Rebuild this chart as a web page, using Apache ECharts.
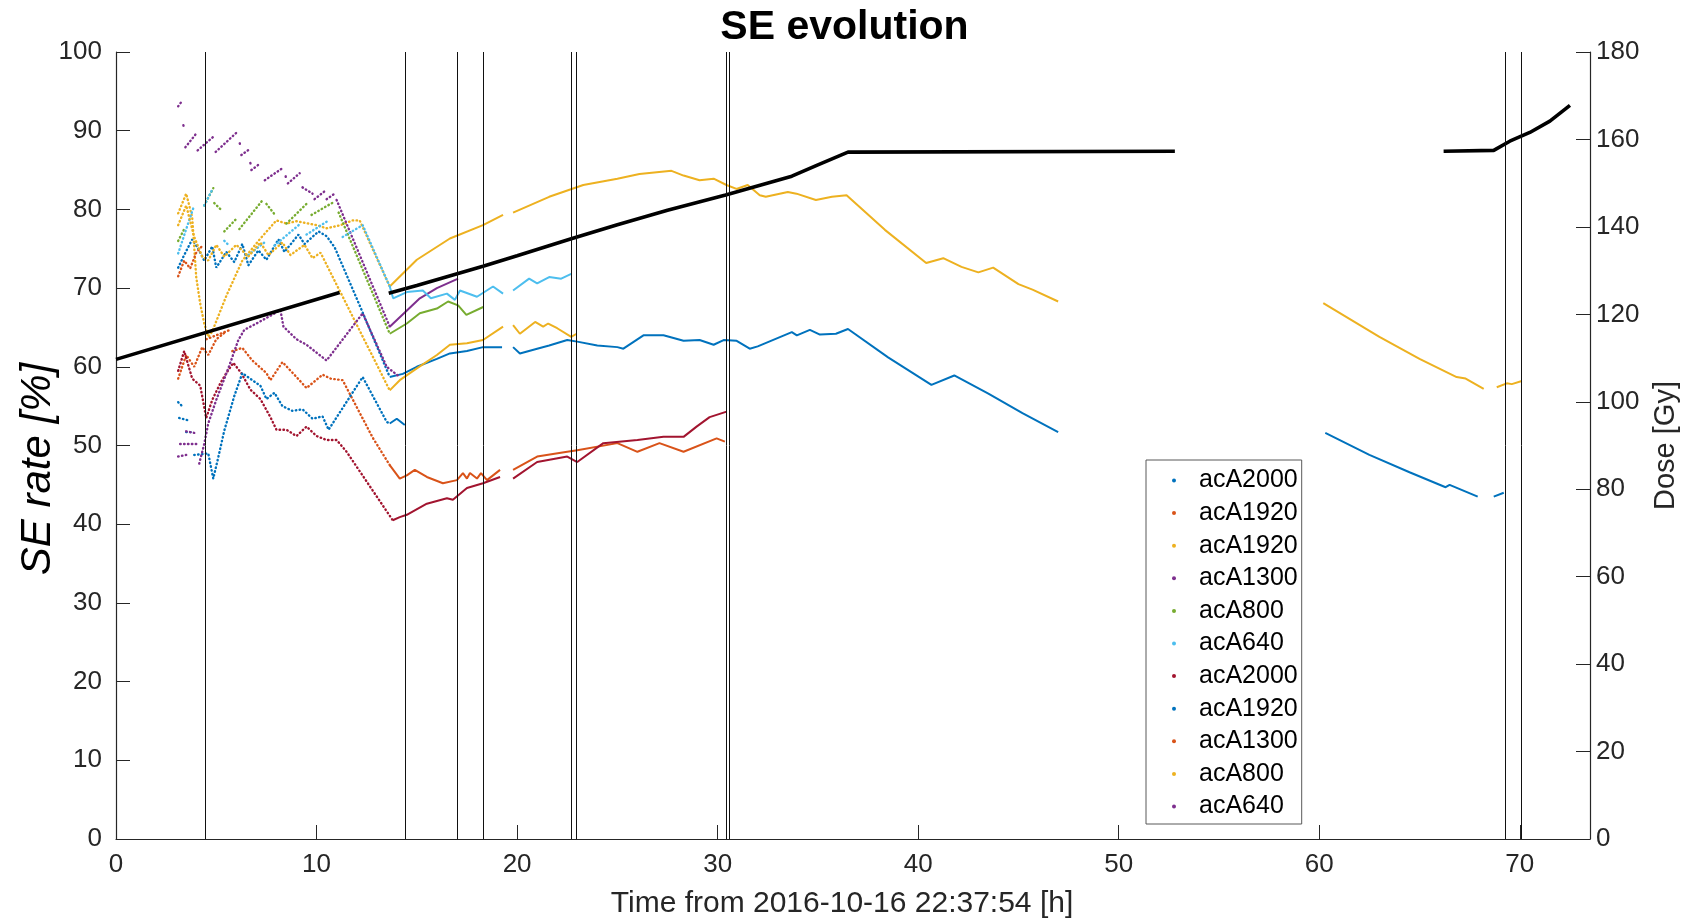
<!DOCTYPE html>
<html>
<head>
<meta charset="utf-8">
<script src="https://cdn.jsdelivr.net/npm/echarts@6/dist/echarts.min.js"></script>
<style>
  html, body { margin: 0; padding: 0; background: #ffffff; overflow: hidden; }
  #chart { width: 1689px; height: 921px; }
</style>
</head>
<body>
<div id="chart"></div>
<script>
// A null entry marks a break in the record (no samples in that interval).
const GAP = null;

// Axis ticks
const timeTicks = [0, 10, 20, 30, 40, 50, 60, 70];
const seTicks = [0, 10, 20, 30, 40, 50, 60, 70, 80, 90, 100];
const doseTicks = [0, 20, 40, 60, 80, 100, 120, 140, 160, 180];

// Camera names, in plotting order
const cameraNames = ['acA2000', 'acA1920', 'acA1920', 'acA1300', 'acA800', 'acA640',
                     'acA2000', 'acA1920', 'acA1300', 'acA800', 'acA640'];

// SE rate [%] vs time [h], one array per camera
const se1 = [
  [3.1,72.6],[3.4,74.2],[3.8,76.2],[4.1,75.0],[4.4,73.5],[4.8,75.3],[5.0,72.6],[5.5,74.6],[5.9,73.3],
  [6.3,75.6],[6.6,72.9],[7.1,74.8],[7.5,73.6],[8.1,76.2],[8.4,74.6],[9.1,76.8],[9.4,75.6],[10.1,77.2],
  [10.5,76.6],[10.9,75.2],[12.2,67.5],[13.65,58.7],
  [14.3,59.1],[15.0,60.0],[16.0,61.0],[16.65,61.7],[17.5,62.0],[18.3,62.5],[19.25,62.5], GAP,
  [19.8,62.5],[20.14,61.7],[21.0,62.3],[21.6,62.7],[22.5,63.4],[23.0,63.2],[24.0,62.7],[25.0,62.5],
  [25.3,62.3],[26.3,64.0],[27.3,64.0],[28.3,63.3],[29.1,63.4],[29.8,62.8],[30.3,63.4],[30.95,63.3],
  [31.6,62.3],[32.0,62.6],[33.7,64.4],[33.95,64.0],[34.6,64.7],[35.1,64.1],[35.9,64.2],[36.5,64.8],
  [38.5,61.2],[40.66,57.7],[41.8,58.9],[43.5,56.6],[45.2,54.1],[46.98,51.7], GAP,
  [60.3,51.6],[62.5,48.8],[64.5,46.6],[66.3,44.7],[66.5,45.0],[67.9,43.5], GAP,
  [68.7,43.5],[69.2,44.0]
];
const se2 = [
  [3.1,58.5],[3.5,61.5],[3.9,60.0],[4.3,62.5],[4.6,61.5],[5.0,63.5],[5.4,64.3], GAP,
  [5.8,62.0],[6.3,62.4],[6.8,60.8],[7.5,59.2],[7.7,58.3],[8.3,60.6],[9.0,58.7],[9.5,57.3],[10.3,59.0],
  [10.7,58.5],[11.3,58.3],[12.8,51.0],[13.65,47.5],
  [14.15,45.8],[14.5,46.2],[14.9,46.9],[15.5,46.0],[16.3,45.2],[17.0,45.6],[17.3,46.5],[17.5,45.8],
  [17.65,46.5],[18.0,45.8],[18.2,46.5],[18.5,45.6],[19.15,46.9], GAP,
  [19.8,46.9],[21.0,48.6],[22.5,49.2],[23.0,49.4],[25.0,50.3],[26.0,49.2],[27.1,50.3],[28.3,49.2],
  [29.95,50.9],[30.36,50.5]
];
const se3 = [
  [3.1,79.5],[3.5,82.0],[3.8,79.0],[4.0,71.4],[4.2,68.0],[4.4,65.5],[4.6,63.8],[4.8,64.5],[5.5,69.0],
  [6.3,73.5],[7.2,76.3],[8.0,78.6],[8.5,78.2],[9.0,78.5],[10.0,78.0],[10.5,77.6],[11.2,78.0],[11.8,78.6],
  [12.15,78.6],[13.65,70.2],
  [15.0,73.6],[16.65,76.3],[18.3,78.0],[19.3,79.3], GAP,
  [19.8,79.6],[21.6,81.6],[23.3,83.1],[25.0,83.9],[26.1,84.5],[27.7,84.9],[28.3,84.3],[29.1,83.7],
  [29.8,83.9],[30.44,83.1],[30.94,82.6],[31.5,83.1],[32.1,81.8],[32.4,81.6],[33.5,82.2],[33.93,82.0],
  [34.9,81.2],[35.7,81.6],[36.43,81.8],[38.34,77.4],[40.4,73.2],[41.25,73.8],[42.16,72.7],[43.0,72.0],
  [43.74,72.6],[45.0,70.5],[45.7,69.8],[46.98,68.3], GAP,
  [60.2,68.1],[63.0,63.8],[65.0,61.0],[66.85,58.7],[67.3,58.5],[68.2,57.2], GAP,
  [68.85,57.4],[69.35,57.9],[69.6,57.8],[70.1,58.2]
];
const se4 = [
  [3.1,93.1],[3.3,93.8], GAP, [3.36,90.7],[3.37,90.6], GAP, [3.46,87.9],[3.99,89.6], GAP,
  [4.07,87.5],[4.84,89.2], GAP, [4.97,87.3],[6.03,89.8], GAP, [6.17,88.4],[6.18,88.3], GAP,
  [6.25,86.9],[6.63,87.6], GAP, [6.7,85.9],[6.71,85.8], GAP, [6.75,85.0],[7.17,85.8], GAP,
  [7.42,83.7],[8.33,85.3], GAP, [8.46,84.2],[8.47,84.1], GAP, [8.57,83.3],[9.16,84.6], GAP,
  [9.3,82.8],[9.8,82.0], GAP, [9.9,81.3],[10.4,82.3], GAP, [10.5,81.3],[10.9,82.0], GAP,
  [11.0,81.2],[13.65,65.1],
  [14.4,66.9],[15.15,68.7],[16.0,70.0],[17.06,71.2]
];
const se5 = [
  [3.1,76.0],[3.4,77.5], GAP, [4.4,80.5],[4.85,82.7], GAP, [4.9,80.8],[5.3,79.8], GAP,
  [5.4,77.2],[6.0,78.8], GAP, [6.15,77.5],[7.35,81.3], GAP, [7.5,80.7],[7.9,79.4], GAP,
  [8.5,78.2],[9.5,80.7], GAP, [9.75,79.3],[10.9,81.0], GAP, [11.1,79.6],[13.65,64.2],
  [14.5,65.5],[15.15,66.8],[16.0,67.4],[16.56,68.3],[17.06,67.8],[17.47,66.6],[18.31,67.6]
];
const se6 = [
  [3.1,74.4],[3.5,77.5],[3.9,80.5], GAP, [4.4,80.5],[4.8,82.5], GAP, [5.4,76.0],[5.6,75.5], GAP,
  [6.6,74.2],[7.5,76.0], GAP, [7.9,75.4],[9.2,78.2], GAP, [9.5,76.8],[10.6,78.6], GAP,
  [11.3,76.5],[12.3,78.0],[13.65,70.2],
  [13.82,68.7],[14.5,69.5],[15.3,69.7],[15.7,68.7],[16.5,69.3],[16.9,68.5],[17.15,69.7],[18.0,68.9],
  [18.8,70.2],[19.3,69.3], GAP,
  [19.8,69.7],[20.6,71.2],[21.0,70.6],[21.6,71.4],[22.2,71.2],[22.7,71.8]
];
const se7 = [
  [3.1,59.5],[3.4,62.0],[3.8,58.5],[4.2,57.6],[4.5,53.5],[4.8,55.8],[5.2,57.9],[5.5,59.2],[5.85,60.5],
  [6.25,59.2],[6.7,57.1],[7.2,55.9],[7.7,53.6],[8.0,52.0],[8.5,52.0],[9.0,51.2],[9.5,52.4],[10.0,51.2],
  [10.5,50.7],[11.0,50.7],[11.5,49.2],[13.8,40.5],
  [14.15,40.9],[14.5,41.2],[15.5,42.6],[16.5,43.3],[16.8,43.1],[17.5,44.6],[18.3,45.2],[19.15,46.0], GAP,
  [19.8,45.8],[21.0,47.9],[22.5,48.6],[23.0,47.9],[24.3,50.3],[26.0,50.7],[27.3,51.1],[28.3,51.1],
  [28.95,52.4],[29.6,53.6],[30.45,54.3]
];
const se8 = [
  [3.1,55.5],[3.3,55.0], GAP, [3.15,53.5],[3.6,53.2], GAP, [3.5,51.7],[3.85,51.7], GAP,
  [3.9,48.8],[4.6,49.0],[4.85,45.8],[5.1,48.5],[5.4,51.9],[5.9,56.3],[6.3,59.2],[6.8,58.3],[7.2,57.6],
  [7.5,55.9],[7.9,56.7],[8.3,55.0],[8.8,54.4],[9.3,54.6],[9.8,53.4],[10.3,53.7],[10.6,52.0],
  [12.3,58.7],[13.5,53.0],[13.65,52.8],[14.0,53.4],[14.4,52.6]
];
const se9 = [
  [3.1,71.5],[3.4,73.5],[3.7,72.5],[4.0,74.5],[4.35,75.5], GAP,
  [4.5,63.5],[5.0,64.0],[5.7,64.7]
];
const se10 = [
  [3.1,78.0],[3.5,80.5],[3.9,76.5],[4.3,74.0],[4.6,73.5],[5.0,75.5],[5.4,74.0],[6.0,75.5],[6.6,74.0],
  [7.2,75.8],[7.6,74.2],[8.3,75.8],[8.7,74.2],[9.4,75.5],[9.8,73.8],[10.2,74.5],[13.65,57.0],
  [14.15,58.3],[15.0,59.8],[16.0,61.5],[16.65,62.8],[17.5,63.0],[18.3,63.4],[19.3,65.1], GAP,
  [19.8,65.3],[20.14,64.2],[20.9,65.7],[21.3,65.1],[21.55,65.5],[22.0,64.9],[22.7,63.8],[22.97,64.2]
];
const se11 = [
  [3.1,48.6],[3.5,48.8], GAP, [3.2,50.2],[4.0,50.2], GAP, [3.5,51.8],[3.9,51.6], GAP,
  [4.15,47.7],[4.4,50.2],[4.6,52.8],[5.0,55.8],[5.6,59.8],[6.1,63.4],[6.4,64.7],[7.0,65.5],[8.2,67.2],
  [8.35,65.1],[9.0,63.5],[9.5,62.8],[10.5,60.8],[12.3,66.8],[13.5,60.0],[14.15,58.7]
];

// Accumulated dose [Gy] vs time [h]
const dose = [
  [0,109.7],[11.15,125.0], GAP,
  [13.6,124.8],[15.0,126.6],[16.5,128.6],[18.3,131.0],[20.0,133.4],[22.7,137.3],[25.0,140.5],
  [27.5,143.8],[30.4,147.3],[33.7,151.6],[35.0,154.2],[36.5,157.1],[52.8,157.3], GAP,
  [66.2,157.3],[68.7,157.5],[69.5,159.6],[70.5,161.6],[71.5,164.2],[72.5,167.8]
];

// Event markers [h]
const eventTimes = [4.43, 14.42, 17.03, 18.29, 22.71, 22.96, 30.44, 30.56, 69.26, 70.09];

const seriesData = [se1, se2, se3, se4, se5, se6, se7, se8, se9, se10, se11];
const palette = ['#0072BD', '#D95319', '#EDB120', '#7E2F8E', '#77AC30', '#4DBEEE',
                 '#A2142F', '#0072BD', '#D95319', '#EDB120', '#7E2F8E'];

// Before this time the cameras were read out sparsely and the samples show as separate dots.
const DENSE_FROM = 13.6;
const FONT = '"Liberation Sans", Arial, Helvetica, sans-serif';
const INK = '#262626';

function toLine(points) {
  return points.map(p => (p === null ? ['-', '-'] : p));
}

function splitAt(points, t) {
  const i = points.findIndex(p => p !== null && p[0] >= t);
  if (i < 0) return [points, []];
  return [points.slice(0, i + 1), points.slice(i)];
}

const series = [];
const legendNames = [];
seriesData.forEach((pts, k) => {
  const name = cameraNames[k] + '#' + (k + 1);
  legendNames.push(name);
  const color = palette[k];
  const [sparse, dense] = splitAt(pts, DENSE_FROM);
  series.push({
    type: 'line', name: name, data: toLine(sparse), yAxisIndex: 0,
    symbol: 'none', showSymbol: false, connectNulls: false, silent: true, animation: false,
    itemStyle: { color: color },
    lineStyle: { color: color, width: 2.4, type: [0.5, 3.4], cap: 'round' },
    z: 2
  });
  if (dense.length > 1) {
    series.push({
      type: 'line', name: name + '-dense', data: toLine(dense), yAxisIndex: 0,
      symbol: 'none', showSymbol: false, connectNulls: false, silent: true, animation: false,
      itemStyle: { color: color },
      lineStyle: { color: color, width: 2 },
      z: 2
    });
  }
});

series.push({
  type: 'line', name: 'Dose', data: toLine(dose), yAxisIndex: 1,
  symbol: 'none', showSymbol: false, connectNulls: false, silent: true, animation: false,
  lineStyle: { color: '#000000', width: 3.6 },
  z: 4,
  markLine: {
    silent: true, symbol: 'none', animation: false,
    label: { show: false },
    lineStyle: { color: '#111111', width: 1, type: 'solid' },
    data: eventTimes.map(t => ({ xAxis: t }))
  }
});

const axisCommon = {
  axisLine: { show: true, onZero: false, lineStyle: { color: INK, width: 1.2 } },
  axisTick: { show: true, inside: true, length: 14, lineStyle: { color: INK, width: 1 } },
  splitLine: { show: false },
  axisLabel: { fontSize: 26, color: INK, fontFamily: FONT }
};

const chart = echarts.init(document.getElementById('chart'), null, { renderer: 'canvas' });
chart.setOption({
  animation: false,
  backgroundColor: '#ffffff',
  title: {
    text: 'SE evolution', left: 'center', top: 2,
    textStyle: { fontSize: 41, fontWeight: 'bold', color: '#000000', fontFamily: FONT }
  },
  grid: { left: 116, right: 99, top: 52, bottom: 82, containLabel: false, outerBoundsMode: 'none' },
  legend: {
    data: legendNames,
    orient: 'vertical',
    left: 1146, top: 460,
    padding: [8, 4, 5, 26],
    itemGap: 7.6,
    itemWidth: 4, itemHeight: 4,
    icon: 'circle',
    backgroundColor: '#ffffff',
    borderColor: '#595959', borderWidth: 1,
    formatter: n => n.split('#')[0],
    textStyle: { fontSize: 25, lineHeight: 24, color: '#000000', fontFamily: FONT, padding: [0, 0, 0, 18] },
    selectedMode: false
  },
  graphic: [{
    type: 'text', silent: true,
    x: 38, y: 469,
    rotation: Math.PI / 2,
    style: {
      text: 'SE rate [%]', fontSize: 42, fontStyle: 'italic', fill: '#000000', fontFamily: FONT,
      align: 'center', verticalAlign: 'middle'
    }
  }],
  xAxis: Object.assign({}, axisCommon, {
    type: 'value', min: timeTicks[0], max: 73.5, interval: timeTicks[1] - timeTicks[0],
    axisLabel: Object.assign({}, axisCommon.axisLabel, { margin: 13, showMaxLabel: false }),
    name: 'Time from 2016-10-16 22:37:54 [h]', nameLocation: 'middle', nameGap: 50,
    nameTextStyle: { fontSize: 30, color: INK, fontFamily: FONT, padding: [0, 22, 0, 0] }
  }),
  yAxis: [
    Object.assign({}, axisCommon, {
      type: 'value', position: 'left',
      min: seTicks[0], max: seTicks[seTicks.length - 1], interval: seTicks[1] - seTicks[0],
      axisLabel: Object.assign({}, axisCommon.axisLabel, { margin: 14 })
    }),
    Object.assign({}, axisCommon, {
      type: 'value', position: 'right',
      min: doseTicks[0], max: doseTicks[doseTicks.length - 1], interval: doseTicks[1] - doseTicks[0],
      axisLabel: Object.assign({}, axisCommon.axisLabel, { margin: 6 }),
      name: 'Dose [Gy]', nameLocation: 'middle', nameGap: 61, nameRotate: 90,
      nameTextStyle: { fontSize: 29, color: INK, fontFamily: FONT }
    })
  ],
  series: series
});
</script>
</body>
</html>
